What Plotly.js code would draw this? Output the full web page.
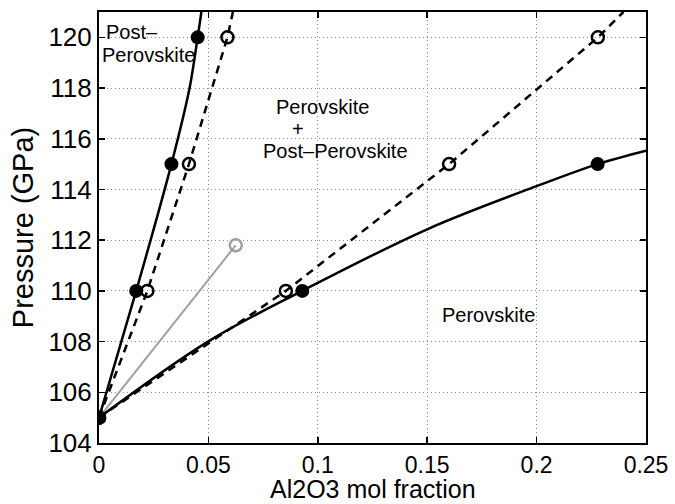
<!DOCTYPE html>
<html>
<head>
<meta charset="utf-8">
<script src="https://cdn.plot.ly/plotly-3.0.1.min.js"></script>
<style>html,body{margin:0;padding:0;background:#fff;}#chart{width:675px;height:504px;}</style>
</head>
<body>
<div id="chart"></div>
<script>
// Measured points (Al2O3 mol fraction, Pressure GPa)
const ppvFilledX = [0, 0.0170, 0.0331, 0.0451];
const ppvFilledY = [105, 110, 115, 120];
const ppvOpenX = [0, 0.0221, 0.0411, 0.0587];
const ppvOpenY = [105, 110, 115, 120];
const pvFilledX = [0, 0.0929, 0.2279];
const pvFilledY = [105, 110, 115];
const pvOpenX = [0, 0.0854, 0.160, 0.228];
const pvOpenY = [105, 110, 115, 120];
const grayX = [0, 0.0625];
const grayY = [105, 111.8];

// Curves
const ppvCurveX = [0, 0.0170, 0.0331, 0.0414, 0.0451, 0.0468];
const ppvCurveY = [105, 110, 115, 118, 120, 121];
const ppvDashX = [0, 0.0221, 0.0411, 0.0587, 0.0612];
const ppvDashY = [105, 110, 115, 120, 121];
const pvCurveX = [0, 0.0498, 0.0929, 0.15, 0.2, 0.2279, 0.25];
const pvCurveY = [105, 108, 110, 112.43, 114.13, 115, 115.53];
const pvDashX = [0, 0.0854, 0.160, 0.228, 0.2397];
const pvDashY = [105, 110, 115, 120, 121];

const xTicks = [0, 0.05, 0.1, 0.15, 0.2, 0.25];
const xTickText = ['0', '0.05', '0.1', '0.15', '0.2', '0.25'];
const yTicks = [104, 106, 108, 110, 112, 114, 116, 118, 120];
const xTitle = 'Al2O3 mol fraction';
const yTitle = 'Pressure (GPa)';

const FONT = 'Liberation Sans, Arial, Helvetica, sans-serif';
const lw = 2.5;
const dashStyle = '8px,6px';

const traces = [
  {x: grayX, y: grayY, mode: 'lines', line: {color: '#a0a0a0', width: 2}},
  {x: ppvCurveX, y: ppvCurveY, mode: 'lines', line: {color: '#000', width: lw, shape: 'spline', smoothing: 0.8}},
  {x: ppvDashX, y: ppvDashY, mode: 'lines', line: {color: '#000', width: lw, dash: dashStyle}},
  {x: pvCurveX, y: pvCurveY, mode: 'lines', line: {color: '#000', width: lw, shape: 'spline', smoothing: 1}},
  {x: pvDashX, y: pvDashY, mode: 'lines', line: {color: '#000', width: lw, dash: dashStyle}},
  {x: grayX, y: grayY, mode: 'markers', marker: {symbol: 'circle-open', size: 12, color: '#a0a0a0', line: {width: 2.5, color: '#a0a0a0'}}},
  {x: ppvOpenX, y: ppvOpenY, mode: 'markers', marker: {symbol: 'circle-open', size: 12, color: '#000', line: {width: 2.5, color: '#000'}}},
  {x: pvOpenX, y: pvOpenY, mode: 'markers', marker: {symbol: 'circle-open', size: 12, color: '#000', line: {width: 2.5, color: '#000'}}},
  {x: ppvFilledX, y: ppvFilledY, mode: 'markers', marker: {symbol: 'circle', size: 14, color: '#000'}},
  {x: pvFilledX, y: pvFilledY, mode: 'markers', marker: {symbol: 'circle', size: 14, color: '#000'}}
];

const annFont = {family: FONT, size: 20, color: '#000'};
const labels = [
  {text: 'Post–', x: 0.0153, y: 120.22},
  {text: 'Perovskite', x: 0.0224, y: 119.32},
  {text: 'Perovskite', x: 0.1023, y: 117.27},
  {text: '+', x: 0.0909, y: 116.37},
  {text: 'Post–Perovskite', x: 0.1083, y: 115.5},
  {text: 'Perovskite', x: 0.1779, y: 109.06}
];

const anns = labels.map(a => ({text: a.text, x: a.x, y: a.y, xref: 'x', yref: 'y', showarrow: false, font: annFont, xanchor: 'center', yanchor: 'middle'}));
anns.push({text: xTitle, xref: 'paper', yref: 'paper', x: 0.5, y: -0.107, xanchor: 'center', yanchor: 'middle', showarrow: false, font: {family: FONT, size: 25, color: '#000'}});

const layout = {
  width: 675, height: 504,
  margin: {l: 99, r: 29, t: 12, b: 61},
  paper_bgcolor: '#fff', plot_bgcolor: '#fff',
  showlegend: false,
  font: {family: FONT, color: '#000'},
  xaxis: {
    range: [0, 0.25], tickvals: xTicks, ticktext: xTickText,
    ticks: 'inside', ticklen: 6, tickwidth: 1.5, tickcolor: '#000',
    showline: true, linecolor: '#000', linewidth: 2, mirror: 'ticks',
    showgrid: true, gridcolor: '#8a8a8a', gridwidth: 1, griddash: '1px,3px',
    zeroline: false, tickfont: {family: FONT, size: 23, color: '#000'},
    ticklabelstandoff: 0
  },
  yaxis: {
    range: [104, 121], tickvals: yTicks,
    ticks: 'inside', ticklen: 6, tickwidth: 1.5, tickcolor: '#000',
    showline: true, linecolor: '#000', linewidth: 2, mirror: 'ticks',
    showgrid: true, gridcolor: '#8a8a8a', gridwidth: 1, griddash: '1px,3px',
    zeroline: false, tickfont: {family: FONT, size: 26, color: '#000'},
    title: {text: yTitle, font: {family: FONT, size: 29, color: '#000'}, standoff: 6}
  },
  annotations: anns
};

Plotly.newPlot('chart', traces, layout, {displayModeBar: false, staticPlot: true});
</script>
</body>
</html>
